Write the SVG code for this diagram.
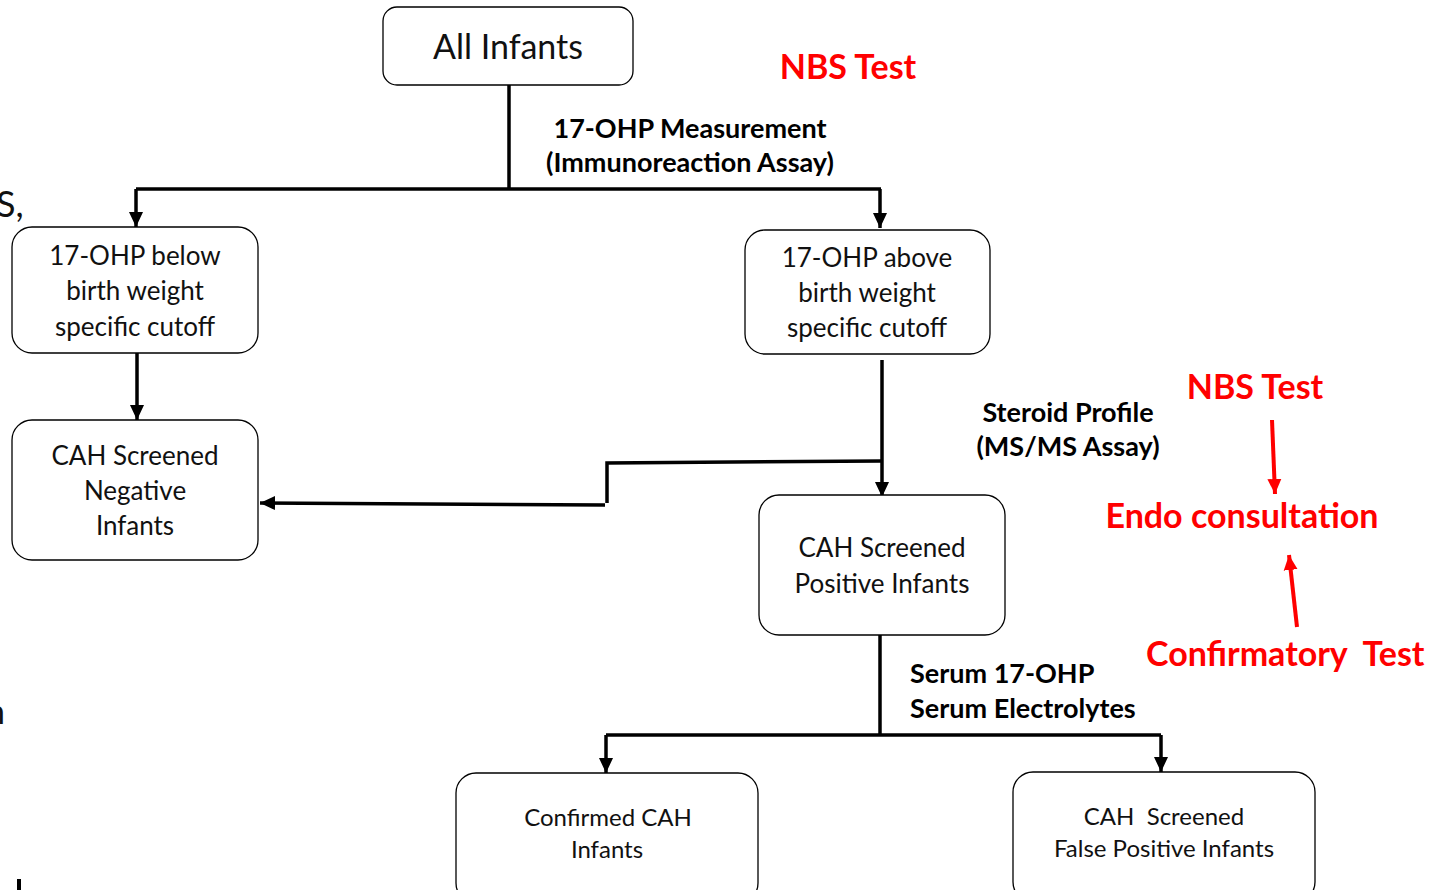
<svg xmlns="http://www.w3.org/2000/svg" width="1455" height="890" viewBox="0 0 1455 890">
<style>
.box{fill:#fff;stroke:#000;stroke-width:1.3}
.t{font-family:Lato,"Open Sans","Liberation Sans",sans-serif;fill:#111;text-anchor:middle;dominant-baseline:central}
.lb{font-family:Lato,"Open Sans","Liberation Sans",sans-serif;font-weight:bold;fill:#000;font-size:27px;dominant-baseline:central}
.red{font-family:Lato,"Open Sans","Liberation Sans",sans-serif;font-weight:bold;fill:#f00;font-size:34px;dominant-baseline:central}
.c{fill:none;stroke:#000;stroke-width:3.5}
.r{fill:none;stroke:#f00;stroke-width:4}
</style>
<defs>
<marker id="ah" markerUnits="userSpaceOnUse" markerWidth="16" markerHeight="16" viewBox="0 0 16 16" refX="15" refY="8" orient="auto"><path d="M0,1 L15,8 L0,15 Z" fill="#000"/></marker>
<marker id="rh" markerUnits="userSpaceOnUse" markerWidth="16" markerHeight="16" viewBox="0 0 16 16" refX="15" refY="8" orient="auto"><path d="M0,1 L15,8 L0,15 Z" fill="#f00"/></marker>
</defs>
<rect width="1455" height="890" fill="#fff"/>
<g id="fragments">
<text x="-4" y="203" class="t" style="text-anchor:start;font-size:36px">S,</text>
<text x="-14" y="710" class="t" style="text-anchor:start;font-size:34px">n</text>
<rect x="17" y="879" width="4" height="11" fill="#000"/>
</g>
<g id="connectors">
<path class="c" d="M509,85 V190"/>
<path class="c" d="M136,189 H881"/>
<path class="c" d="M136,189 V227" marker-end="url(#ah)"/>
<path class="c" d="M880,189 V228" marker-end="url(#ah)"/>
<path class="c" d="M137,353 V420" marker-end="url(#ah)"/>
<path class="c" d="M882,360 V497" marker-end="url(#ah)"/>
<path class="c" d="M882,461 L607,463 V503"/>
<path class="c" d="M605,505 L260,503" marker-end="url(#ah)"/>
<path class="c" d="M880,635 V735"/>
<path class="c" d="M606,735 H1161"/>
<path class="c" d="M606,735 V773" marker-end="url(#ah)"/>
<path class="c" d="M1161,735 V772" marker-end="url(#ah)"/>
<path class="r" d="M1272,420 L1275,494" marker-end="url(#rh)"/>
<path class="r" d="M1297,627 L1289,555" marker-end="url(#rh)"/>
</g>
<g id="n-all">
<rect class="box" x="383" y="7" width="250" height="78" rx="14"/>
<text class="t" x="508" y="45.5" font-size="34">All Infants</text>
</g>
<g id="n-below">
<rect class="box" x="12" y="227" width="246" height="126" rx="20"/>
<text class="t" x="135" y="254.5" font-size="26">17-OHP below</text>
<text class="t" x="135" y="289.5" font-size="26">birth weight</text>
<text class="t" x="135" y="325.5" font-size="26">specific cutoff</text>
</g>
<g id="n-negative">
<rect class="box" x="12" y="420" width="246" height="140" rx="20"/>
<text class="t" x="135" y="454.5" font-size="26">CAH Screened</text>
<text class="t" x="135" y="489.5" font-size="26">Negative</text>
<text class="t" x="135" y="524.5" font-size="26">Infants</text>
</g>
<g id="n-above">
<rect class="box" x="745" y="230" width="245" height="124" rx="20"/>
<text class="t" x="867" y="256.5" font-size="26">17-OHP above</text>
<text class="t" x="867" y="291.5" font-size="26">birth weight</text>
<text class="t" x="867" y="326.5" font-size="26">specific cutoff</text>
</g>
<g id="n-positive">
<rect class="box" x="759" y="495" width="246" height="140" rx="20"/>
<text class="t" x="882" y="546.5" font-size="26">CAH Screened</text>
<text class="t" x="882" y="582.5" font-size="26">Positive Infants</text>
</g>
<g id="n-confirmed">
<rect class="box" x="456" y="773" width="302" height="130" rx="20"/>
<text class="t" x="608" y="816.5" font-size="24">Confirmed CAH</text>
<text class="t" x="607" y="848.5" font-size="24">Infants</text>
</g>
<g id="n-falsepos">
<rect class="box" x="1013" y="772" width="302" height="130" rx="20"/>
<text class="t" x="1164" y="815.5" font-size="24" xml:space="preserve">CAH  Screened</text>
<text class="t" x="1164" y="847.5" font-size="24">False Positive Infants</text>
</g>
<g id="labels">
<text class="lb" x="690" y="127.5" text-anchor="middle">17-OHP Measurement</text>
<text class="lb" x="690" y="161.5" text-anchor="middle">(Immunoreaction Assay)</text>
<text class="lb" x="1068" y="411.5" text-anchor="middle">Steroid Profile</text>
<text class="lb" x="1068" y="445.5" text-anchor="middle">(MS/MS Assay)</text>
<text class="lb" x="910" y="672.5">Serum 17-OHP</text>
<text class="lb" x="910" y="707.5">Serum Electrolytes</text>
<text class="red" x="848" y="65" text-anchor="middle">NBS Test</text>
<text class="red" x="1255" y="385" text-anchor="middle">NBS Test</text>
<text class="red" x="1242" y="514" text-anchor="middle">Endo consultation</text>
<text class="red" x="1146" y="652" xml:space="preserve">Confirmatory  Test</text>
</g>
</svg>
